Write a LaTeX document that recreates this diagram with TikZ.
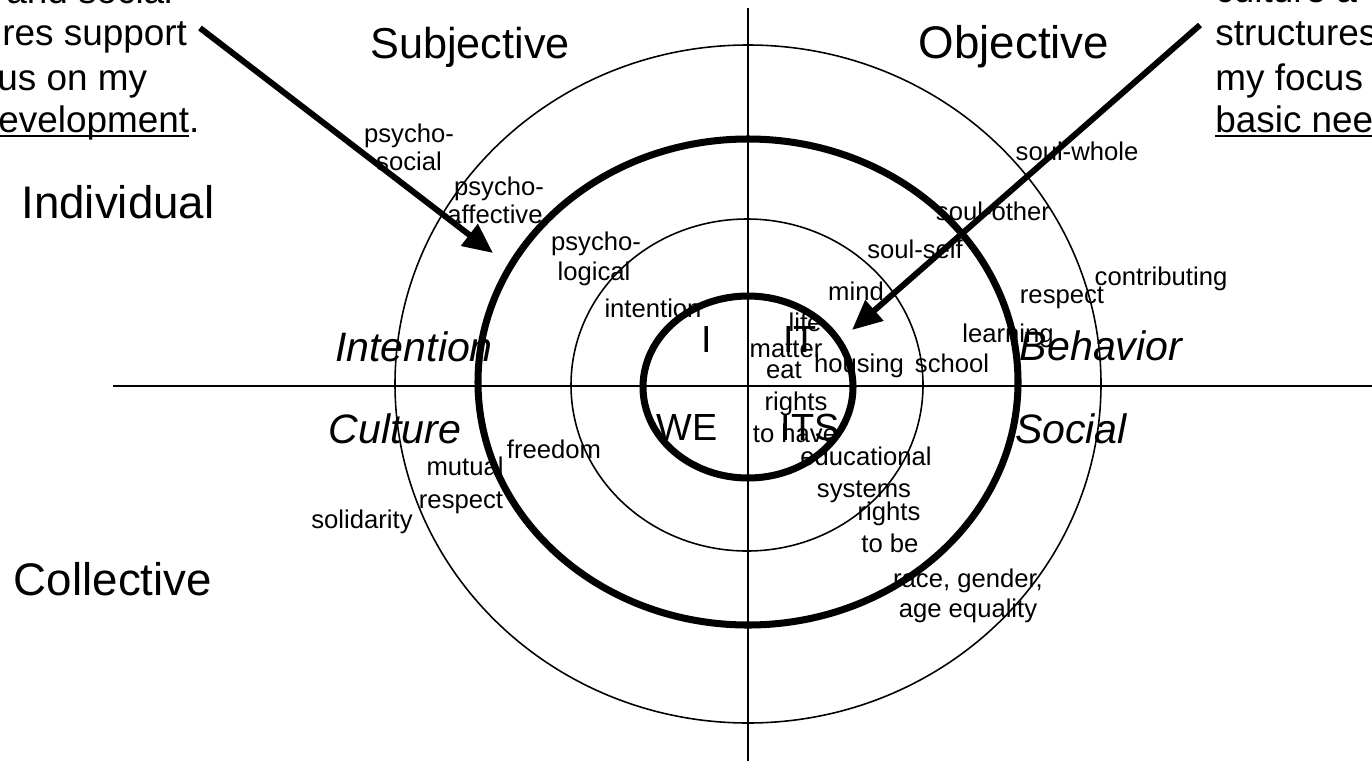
\documentclass[tikz,border=0pt]{standalone}
\usepackage{fontspec}
\setmainfont{Liberation Sans}
\usetikzlibrary{arrows.meta}

\newcommand{\ulword}[1]{\setbox0\hbox{#1}\rlap{\rule[-2.6pt]{\wd0}{1.1pt}}\box0}

\tikzset{
  big/.style={inner sep=0pt,anchor=base,font=\fontsize{26}{31}\selectfont},
  side/.style={inner sep=0pt,anchor=base,font=\fontsize{23.4}{28}\selectfont\itshape},
  core/.style={inner sep=0pt,anchor=base,font=\fontsize{21.5}{26}\selectfont},
  note/.style={inner sep=0pt,anchor=base west,font=\fontsize{21}{25}\selectfont},
  lbl/.style={inner sep=0pt,anchor=base,font=\fontsize{14.6}{17}\selectfont},
  thinring/.style={line width=0.9pt},
  thickring/.style={line width=4pt},
  pointer/.style={line width=3.4pt,-{Triangle[length=17pt,width=15pt]}}
}

\begin{document}
\begin{tikzpicture}[x=0.02cm,y=-0.02cm]
  \useasboundingbox (0,0) rectangle (1372,761);
  \clip (0,0) rectangle (1372,761);

  % axes
  \coordinate (vtop) at (748,8);
  \coordinate (vbot) at (748,761);
  \coordinate (hleft) at (113,386);
  \coordinate (hright) at (1372,386);
  \draw[line width=1.1pt] (vtop) -- (vbot);
  \draw[line width=1.1pt] (hleft) -- (hright);

  % rings
  \draw[thinring] (748,384) ellipse [x radius=353, y radius=339];
  \draw[thickring] (748,382) ellipse [x radius=270, y radius=243];
  \draw[thinring] (747,385) ellipse [x radius=176, y radius=166];
  \draw[thickring] (748,387) ellipse [x radius=105, y radius=91];

  % quadrant headings
  \node[big,font=\fontsize{24.6}{30}\selectfont] (subj) at (470,58) {Subjective};
  \node[big] (obj) at (1014,58) {Objective};
  \node[big] (indiv) at (118,218) {Individual};
  \node[big] (coll) at (113,595) {Collective};
  \node[side] (inten) at (414,361) {Intention};
  \node[side] (cult) at (395,443) {Culture};
  \node[side] (behav) at (1101,360) {Behavior};
  \node[side] (soc) at (1071,443) {Social};
  \node[core] (qi) at (707,352) {I};
  \node[core] (qit) at (800,352) {IT};
  \node[core] (qwe) at (687,440) {WE};
  \node[core] (qits) at (810,440) {ITS};

  % notes cut by the frame
  \node[note] (nl1) at (6,3) {and social};
  \node[note] (nl2) at (2,45) {res support};
  \node[note] (nl3) at (-3,90) {us on my};
  \node[note] (nl4) at (-2,132) {\ulword{evelopment}.};
  \node[note] (nr1) at (1215,2) {culture a};
  \node[note] (nr2) at (1215,45) {structures};
  \node[note] (nr3) at (1215,90) {my focus};
  \node[note] (nr4) at (1215,132) {\ulword{basic nee}};

  % upper left words
  \node[lbl] (psa) at (409,142) {psycho-};
  \node[lbl] (psb) at (409,170) {social};
  \node[lbl] (pfa) at (499,195) {psycho-};
  \node[lbl] (pfb) at (495,223) {affective};
  \node[lbl] (pla) at (596,250) {psycho-};
  \node[lbl] (plb) at (594,280) {logical};
  \node[lbl] (intn) at (653,317) {intention};

  % upper right words
  \node[lbl] (swhole) at (1077,160) {soul-whole};
  \node[lbl] (sother) at (993,220) {soul-other};
  \node[lbl] (sself) at (915,258) {soul-self};
  \node[lbl] (contr) at (1161,285) {contributing};
  \node[lbl] (mind) at (856,300) {mind};
  \node[lbl] (respr) at (1062,303) {respect};
  \node[lbl] (life) at (805,331) {life};
  \node[lbl] (learn) at (1008,342) {learning};
  \node[lbl] (matter) at (786,357) {matter};
  \node[lbl] (eat) at (784,378) {eat};
  \node[lbl] (house) at (859,372) {housing};
  \node[lbl] (school) at (952,372) {school};

  % lower words
  \node[lbl] (rha) at (796,410) {rights};
  \node[lbl] (rhb) at (795,442) {to have};
  \node[lbl] (free) at (554,458) {freedom};
  \node[lbl] (edua) at (866,465) {educational};
  \node[lbl] (edub) at (864,497) {systems};
  \node[lbl] (mra) at (465,475) {mutual};
  \node[lbl] (mrb) at (461,508) {respect};
  \node[lbl] (rba) at (889,520) {rights};
  \node[lbl] (rbb) at (890,552) {to be};
  \node[lbl] (solid) at (362,528) {solidarity};
  \node[lbl] (eqa) at (968,587) {race, gender,};
  \node[lbl] (eqb) at (968,617) {age equality};

  % pointers
  \coordinate (lfrom) at (200,28);
  \coordinate (lto) at (493,253);
  \coordinate (rfrom) at (1200,25);
  \coordinate (rto) at (852,330);
  \draw[pointer] (lfrom) -- (lto);
  \draw[pointer] (rfrom) -- (rto);
\end{tikzpicture}
\end{document}
